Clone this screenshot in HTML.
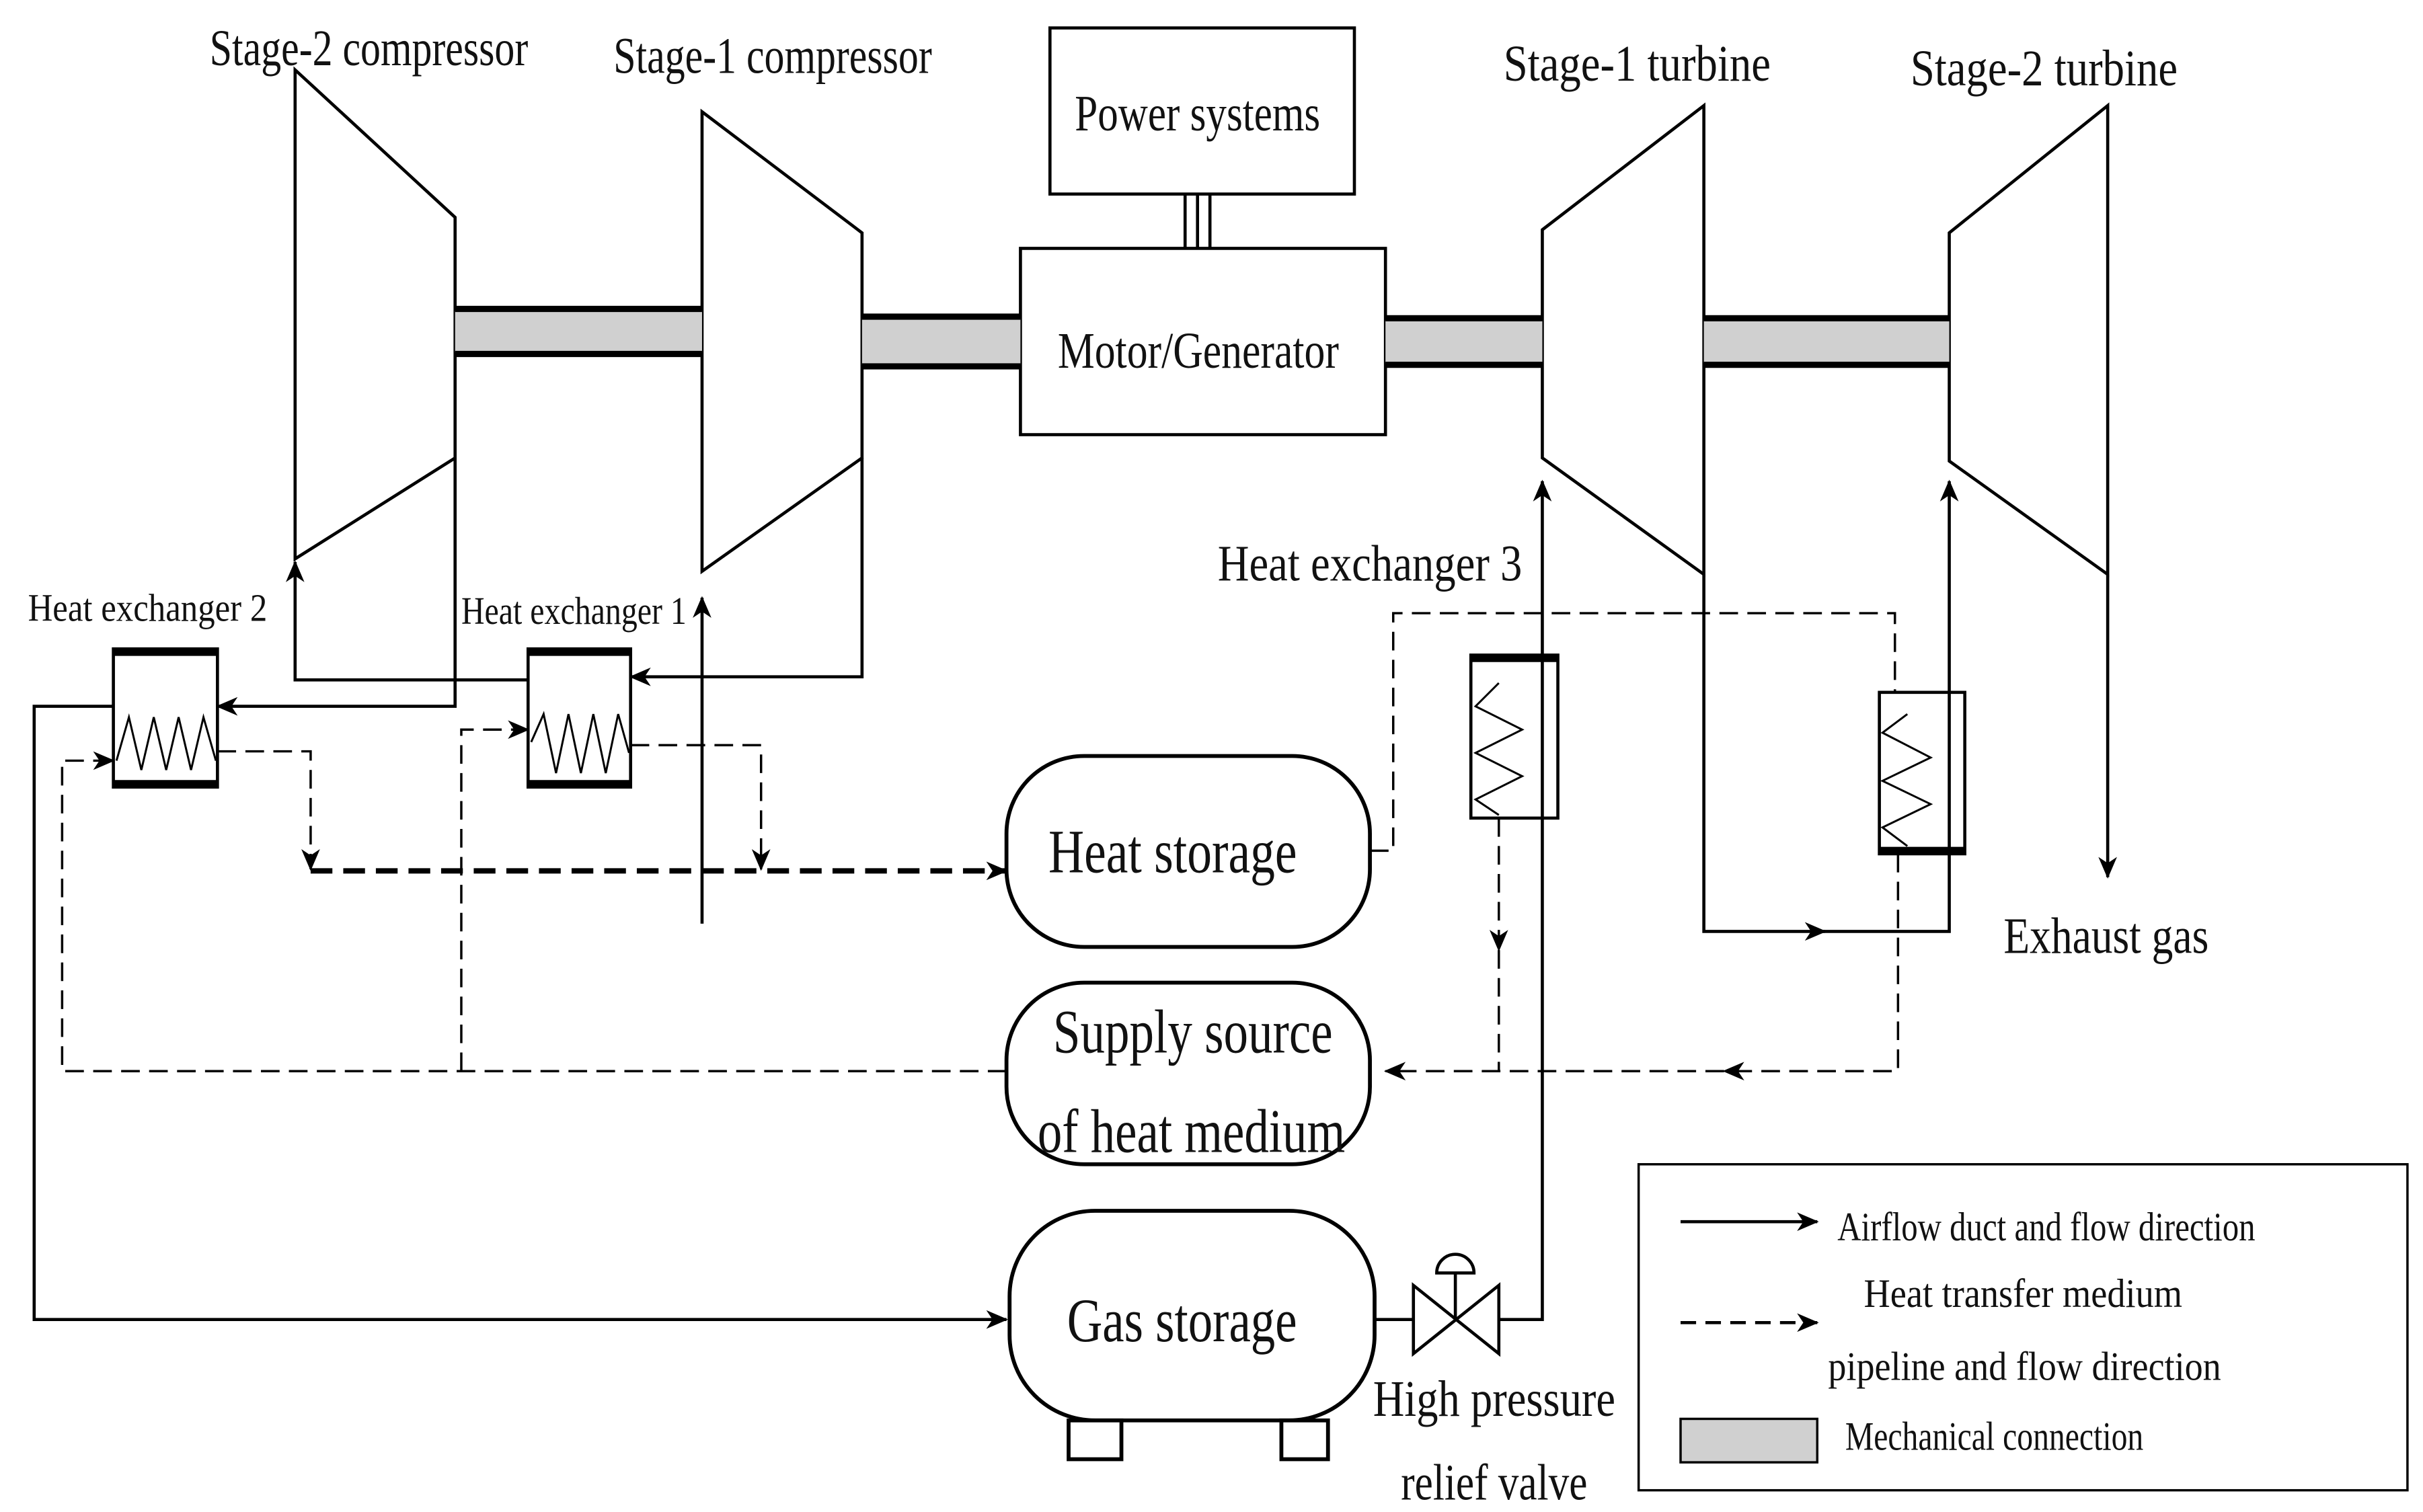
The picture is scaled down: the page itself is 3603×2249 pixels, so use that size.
<!DOCTYPE html>
<html><head><meta charset="utf-8"><style>
html,body{margin:0;padding:0;background:#fff;}
svg{display:block;}
text{font-family:"Liberation Serif",serif;fill:#111;}
</style></head><body>
<svg width="3603" height="2249" viewBox="0 0 1560 974" preserveAspectRatio="none" xmlns="http://www.w3.org/2000/svg">
<defs>
<marker id="b" markerWidth="14" markerHeight="12" refX="13" refY="6" orient="auto" markerUnits="userSpaceOnUse"><path d="M0,0 L14,6 L0,12 L4,6 Z" fill="#000"/></marker>
</defs>
<g fill="none" stroke="#000" stroke-width="2">
<polygon points="190,45 293,140 293,295 190,360"/>
<polygon points="452,72 555,150 555,295 452,368"/>
<polygon points="993,148 1097,68 1097,370 993,295"/>
<polygon points="1255,150 1357,68 1357,370 1255,297"/>
<rect x="676" y="18" width="196" height="107"/>
<rect x="657" y="160" width="235" height="120"/>
<line x1="763" y1="125" x2="763" y2="160"/><line x1="771" y1="125" x2="771" y2="160"/><line x1="779" y1="125" x2="779" y2="160"/>
</g>
<g fill="#d0d0d0" stroke="#000" stroke-width="4">
<rect x="293" y="200" width="159" height="27" stroke="none"/>
<line x1="293" y1="199" x2="452" y2="199"/><line x1="293" y1="228" x2="452" y2="228"/>
<rect x="555" y="205" width="102" height="30" stroke="none"/>
<line x1="555" y1="204" x2="657" y2="204"/><line x1="555" y1="236" x2="657" y2="236"/>
<rect x="892" y="206" width="101" height="28" stroke="none"/>
<line x1="892" y1="205" x2="993" y2="205"/><line x1="892" y1="235" x2="993" y2="235"/>
<rect x="1097" y="206" width="158" height="28" stroke="none"/>
<line x1="1097" y1="205" x2="1255" y2="205"/><line x1="1097" y1="235" x2="1255" y2="235"/>
</g>
<g fill="#fff" stroke="#000" stroke-width="2">
<rect x="73" y="418" width="67" height="89"/>
<rect x="340" y="418" width="66" height="89"/>
<rect x="947" y="422" width="56" height="105"/>
<rect x="1210" y="446" width="55" height="104"/>
</g>
<g stroke="#000" stroke-width="5">
<line x1="73" y1="420" x2="140" y2="420"/><line x1="73" y1="505" x2="140" y2="505"/>
<line x1="340" y1="420" x2="406" y2="420"/><line x1="340" y1="505" x2="406" y2="505"/>
<line x1="947" y1="424" x2="1003" y2="424"/><line x1="1210" y1="548" x2="1265" y2="548"/>
</g>
<g fill="none" stroke="#000" stroke-width="1.3">
<polyline points="75,490 83,462 91,496 99,462 107,496 115,462 123,496 131,462 139,490"/>
<polyline points="342,478 350,460 358,498 366,460 374,498 382,460 390,498 398,460 405,485"/>
<polyline points="965,440 950,455 980,470 950,485 980,500 950,515 965,525"/>
<polyline points="1228,460 1212,472 1243,488 1212,503 1243,518 1212,533 1228,545"/>
</g>
<g fill="#fff" stroke="#000" stroke-width="2.5">
<rect x="648" y="487" width="234" height="123" rx="50"/>
<rect x="648" y="633" width="234" height="117" rx="50"/>
<rect x="650" y="780" width="235" height="135" rx="55"/>
<rect x="688" y="915" width="34" height="25"/>
<rect x="825" y="915" width="30" height="25"/>
</g>
<g fill="none" stroke="#000" stroke-width="2">
<polygon points="910,828 965,872 965,828 910,872" fill="#fff"/>
<line x1="937" y1="850" x2="937" y2="820"/>
<path d="M925,820 A12,12 0 0 1 949,820 Z" fill="#fff"/>
</g>
<g fill="none" stroke="#000" stroke-width="2">
<polyline points="555,295 555,436 406,436" marker-end="url(#b)"/>
<polyline points="340,438 190,438 190,362" marker-end="url(#b)"/>
<polyline points="293,295 293,455 140,455" marker-end="url(#b)"/>
<line x1="452" y1="595" x2="452" y2="385" marker-end="url(#b)"/>
<polyline points="73,455 22,455 22,850 648,850" marker-end="url(#b)"/>
<line x1="885" y1="850" x2="910" y2="850"/>
<polyline points="965,850 993,850 993,310" marker-end="url(#b)"/>
<polyline points="1097,370 1097,600 1175,600" marker-end="url(#b)"/>
<polyline points="1170,600 1255,600 1255,310" marker-end="url(#b)"/>
<line x1="1357" y1="370" x2="1357" y2="565" marker-end="url(#b)"/>
</g>
<g fill="none" stroke="#000" stroke-width="1.5" stroke-dasharray="12,6">
<polyline points="140,484 200,484 200,560" marker-end="url(#b)"/>
<polyline points="406,480 490,480 490,560" marker-end="url(#b)"/>
<polyline points="882,548 897,548 897,395 1220,395 1220,446"/>
<polyline points="965,527 965,612" marker-end="url(#b)"/>
<polyline points="965,612 965,690"/>
<polyline points="1222,550 1222,690 1110,690" marker-end="url(#b)"/>
<polyline points="1110,690 892,690" marker-end="url(#b)"/>
<polyline points="648,690 40,690 40,490 73,490" marker-end="url(#b)"/>
<polyline points="297,690 297,470 340,470" marker-end="url(#b)"/>
</g>
<line x1="200" y1="561" x2="648" y2="561" stroke="#000" stroke-width="3.5" stroke-dasharray="14,7" marker-end="url(#b)"/>
<g font-size="33" lengthAdjust="spacingAndGlyphs">
<text x="135" y="42" textLength="205" lengthAdjust="spacingAndGlyphs">Stage-2 compressor</text>
<text x="395" y="47" textLength="205" lengthAdjust="spacingAndGlyphs">Stage-1 compressor</text>
<text x="968" y="52" textLength="172" lengthAdjust="spacingAndGlyphs">Stage-1 turbine</text>
<text x="1230" y="55" textLength="172" lengthAdjust="spacingAndGlyphs">Stage-2 turbine</text>
<text x="692" y="84" textLength="158" lengthAdjust="spacingAndGlyphs">Power systems</text>
<text x="681" y="237" textLength="181" lengthAdjust="spacingAndGlyphs">Motor/Generator</text>
<text x="784" y="374" textLength="196" lengthAdjust="spacingAndGlyphs">Heat exchanger 3</text>
<text x="1290" y="614" textLength="132" lengthAdjust="spacingAndGlyphs">Exhaust gas</text>
</g>
<g font-size="25">
<text x="18" y="400" textLength="154" lengthAdjust="spacingAndGlyphs">Heat exchanger 2</text>
<text x="297" y="402" textLength="145" lengthAdjust="spacingAndGlyphs">Heat exchanger 1</text>
</g>
<g font-size="40">
<text x="675" y="562" textLength="160" lengthAdjust="spacingAndGlyphs">Heat storage</text>
<text x="678" y="678" textLength="180" lengthAdjust="spacingAndGlyphs">Supply source</text>
<text x="668" y="742" textLength="198" lengthAdjust="spacingAndGlyphs">of heat medium</text>
<text x="687" y="864" textLength="148" lengthAdjust="spacingAndGlyphs">Gas storage</text>
</g>
<g font-size="33">
<text x="884" y="912" textLength="156" lengthAdjust="spacingAndGlyphs">High pressure</text>
<text x="902" y="966" textLength="120" lengthAdjust="spacingAndGlyphs">relief valve</text>
</g>
<rect x="1055" y="750" width="495" height="210" fill="none" stroke="#000" stroke-width="1.5"/>
<line x1="1082" y1="787" x2="1170" y2="787" stroke="#000" stroke-width="2" marker-end="url(#b)"/>
<line x1="1082" y1="852" x2="1170" y2="852" stroke="#000" stroke-width="2" stroke-dasharray="10,6" marker-end="url(#b)"/>
<rect x="1082" y="914" width="88" height="28" fill="#d0d0d0" stroke="#000" stroke-width="1.5"/>
<g font-size="26">
<text x="1183" y="799" textLength="269" lengthAdjust="spacingAndGlyphs">Airflow duct and flow direction</text>
<text x="1200" y="842" textLength="205" lengthAdjust="spacingAndGlyphs">Heat transfer medium</text>
<text x="1177" y="889" textLength="253" lengthAdjust="spacingAndGlyphs">pipeline and flow direction</text>
<text x="1188" y="934" textLength="192" lengthAdjust="spacingAndGlyphs">Mechanical connection</text>
</g>
</svg>
</body></html>
